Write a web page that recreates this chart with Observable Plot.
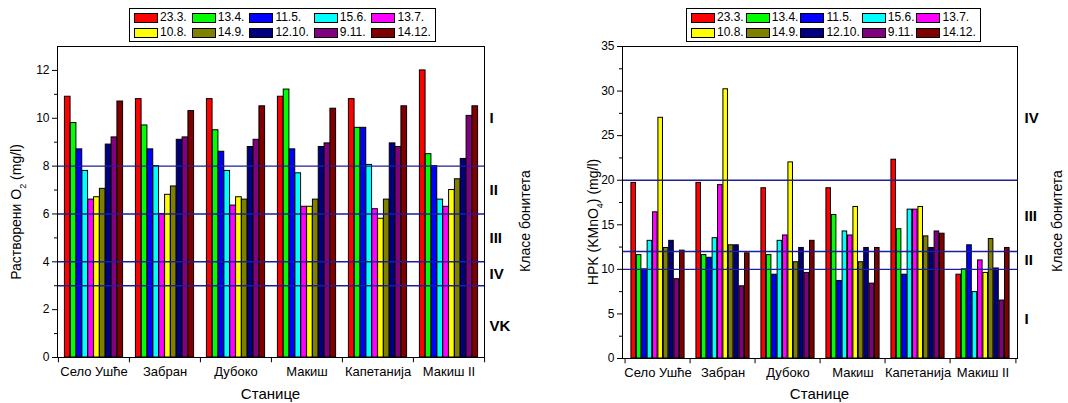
<!DOCTYPE html>
<html><head><meta charset="utf-8">
<script src="https://cdn.jsdelivr.net/npm/d3@7"></script>
<script src="https://cdn.jsdelivr.net/npm/@observablehq/plot@0.6"></script>
<style>
body{margin:0;background:#fff;font-family:Arial,"Liberation Sans",sans-serif;}
#wrap{position:relative;width:1068px;height:403px;overflow:hidden;background:#fff;}
.panel{position:absolute;top:0;}
.legend{position:absolute;top:8px;border:1px solid #000;display:grid;grid-template-columns:repeat(5,auto);row-gap:4px;padding:3px 4px 3px 4px;font-size:12px;background:#fff;color:#000;line-height:11px;}
.item{display:flex;align-items:center;white-space:nowrap;}
.sw{width:24px;height:10px;border:1px solid #000;margin-right:2px;box-sizing:border-box;}
</style></head>
<body><div id="wrap"></div>
<script>
const stations = ["Село Ушће","Забран","Дубоко","Макиш","Капетанија","Макиш II"];
const dates = ["23.3.","13.4.","11.5.","15.6.","13.7.","10.8.","14.9.","12.10.","9.11.","14.12."];
const colors = ["#ff0000","#00ff00","#0000ff","#00ffff","#ff00ff","#ffff00","#808000","#000080","#800080","#800000"];

// Dissolved O2 (mg/l): one row per station, one value per date
const o2Values = [
  [10.9, 9.8, 8.7, 7.8, 6.6, 6.7, 7.05, 8.9, 9.2, 10.7],
  [10.8, 9.7, 8.7, 8.0, 6.0, 6.8, 7.15, 9.1, 9.2, 10.3],
  [10.8, 9.5, 8.6, 7.8, 6.35, 6.7, 6.6, 8.8, 9.1, 10.5],
  [10.9, 11.2, 8.7, 7.7, 6.3, 6.3, 6.6, 8.8, 8.95, 10.4],
  [10.8, 9.6, 9.6, 8.05, 6.2, 5.8, 6.6, 8.95, 8.8, 10.5],
  [12.0, 8.5, 8.0, 6.6, 6.3, 7.0, 7.45, 8.3, 10.1, 10.5]
];
// HPK (KMnO4) (mg/l)
const hpkValues = [
  [19.7, 11.6, 10.0, 13.2, 16.4, 27.0, 12.4, 13.2, 8.9, 12.1],
  [19.7, 11.6, 11.3, 13.5, 19.45, 30.2, 12.7, 12.7, 8.1, 11.8],
  [19.1, 11.6, 9.4, 13.2, 13.8, 22.0, 10.8, 12.4, 9.6, 13.2],
  [19.1, 16.1, 8.7, 14.25, 13.8, 17.0, 10.8, 12.4, 8.4, 12.4],
  [22.3, 14.5, 9.4, 16.7, 16.7, 17.0, 13.7, 12.4, 14.25, 14.0],
  [9.4, 10.0, 12.7, 7.45, 11.0, 9.6, 13.4, 10.1, 6.5, 12.4]
];

const o2Lines = [8, 6, 4, 3];
const o2ClassLabels = ["I", "II", "III", "IV", "VK"];
const o2ClassPos = [10, 7, 5, 3.5, 1.3];
const o2Major = [0, 2, 4, 6, 8, 10, 12];
const o2Minor = [1, 3, 5, 7, 9, 11];

const hpkLines = [20, 12, 10];
const hpkClassLabels = ["IV", "III", "II", "I"];
const hpkClassPos = [27, 16, 11, 4.4];
const hpkMajor = [0, 5, 10, 15, 20, 25, 30, 35];
const hpkMinor = [2.5, 7.5, 12.5, 17.5, 22.5, 27.5, 32.5];

const wrap = document.getElementById("wrap");

function panel(cfg) {
  const {left, width, ml, mr, mt, mb, yMax, major, minor, values, lines, labels, labelPos} = cfg;
  const bw = (width - ml - mr) / stations.length;
  const step = bw * 0.082;
  const pad = (bw - step * dates.length) / 2;
  const rows = stations.flatMap((s, si) => dates.map((d, di) => ({station: s, date: di, value: values[si][di]})));
  const bars = dates.map((d, i) => Plot.barY(rows.filter(r => r.date === i), {
    x: "station", y: "value", fill: colors[i], stroke: "#000", strokeWidth: 1,
    insetLeft: pad + i * step, insetRight: pad + (dates.length - 1 - i) * step
  }));
  const chart = Plot.plot({
    width, height: 403,
    marginLeft: ml, marginRight: mr, marginTop: mt, marginBottom: mb,
    style: {fontFamily: "Arial, 'Liberation Sans', sans-serif", background: "transparent", color: "#000"},
    x: {domain: stations, padding: 0, axis: null},
    y: {domain: [0, yMax], axis: null},
    marks: [
      ...bars,
      Plot.ruleY(lines, {stroke: "#1e1e96", strokeWidth: 1.4}),
      Plot.frame({stroke: "#000", strokeWidth: 1}),
      Plot.axisY({ticks: major, tickSize: 5, tickPadding: 3, fontSize: 12, label: null}),
      Plot.axisY({ticks: minor, tickSize: 3, tickFormat: () => "", label: null}),
      Plot.axisX({tickSize: 0, tickPadding: 9, fontSize: 13, label: null}),
      Plot.ruleX(stations, {x: d => d, dx: -bw / 2, y1: 0, y2: -yMax * 0.017, stroke: "#000"}),
      Plot.ruleX(stations.slice(-1), {x: d => d, dx: bw / 2, y1: 0, y2: -yMax * 0.017, stroke: "#000"}),
      Plot.text(labels, {y: (d, i) => labelPos[i], frameAnchor: "right", dx: cfg.labelDx, textAnchor: "start", fontWeight: "bold", fontSize: 15, text: d => d, fill: "#000"})
    ]
  });
  chart.classList.add("panel");
  chart.style.left = left + "px";
  wrap.appendChild(chart);
  const svg = d3.select(chart);
  // y-axis title
  const yt = svg.append("text")
    .attr("transform", `translate(${cfg.yTitleX},${cfg.yTitleY}) rotate(-90)`)
    .attr("text-anchor", "middle").attr("font-size", 14).attr("fill", "#000");
  cfg.yTitle.forEach(([t, sub]) => {
    const ts = yt.append("tspan").text(t);
    if (sub) ts.attr("font-size", 9).attr("baseline-shift", "sub");
  });
  // class title
  svg.append("text")
    .attr("transform", `translate(${cfg.classX},${cfg.classY}) rotate(-90)`)
    .attr("text-anchor", "middle").attr("font-size", 14).attr("fill", "#000")
    .text("Класе бонитета");
  // x-axis title
  svg.append("text")
    .attr("x", ml + (width - ml - mr) / 2).attr("y", 399)
    .attr("text-anchor", "middle").attr("font-size", 15).attr("fill", "#000")
    .text("Станице");
}

panel({left: 0, width: 540, ml: 57, mr: 56, mt: 46, mb: 46, yMax: 13,
  major: o2Major, minor: o2Minor, values: o2Values, lines: o2Lines,
  labels: o2ClassLabels, labelPos: o2ClassPos, labelDx: 5,
  yTitle: [["Растворени O"], ["2", true], [" (mg/l)"]], yTitleX: 21, yTitleY: 212,
  classX: 530, classY: 221});

panel({left: 540, width: 528, ml: 82, mr: 51, mt: 46, mb: 45, yMax: 35,
  major: hpkMajor, minor: hpkMinor, values: hpkValues, lines: hpkLines,
  labels: hpkClassLabels, labelPos: hpkClassPos, labelDx: 7,
  yTitle: [["HPK (KMnO"], ["4", true], [") (mg/l)"]], yTitleX: 58, yTitleY: 222,
  classX: 522, classY: 221});

function legend(left, gap) {
  const lg = document.createElement("div");
  lg.className = "legend";
  lg.style.left = left + "px";
  lg.style.columnGap = gap + "px";
  dates.forEach((d, i) => {
    const it = document.createElement("div");
    it.className = "item";
    const sw = document.createElement("span");
    sw.className = "sw";
    sw.style.background = colors[i];
    const tx = document.createElement("span");
    tx.textContent = d;
    it.appendChild(sw); it.appendChild(tx);
    lg.appendChild(it);
  });
  wrap.appendChild(lg);
}
legend(129, 5);
legend(686, 2);
</script>
</body></html>
